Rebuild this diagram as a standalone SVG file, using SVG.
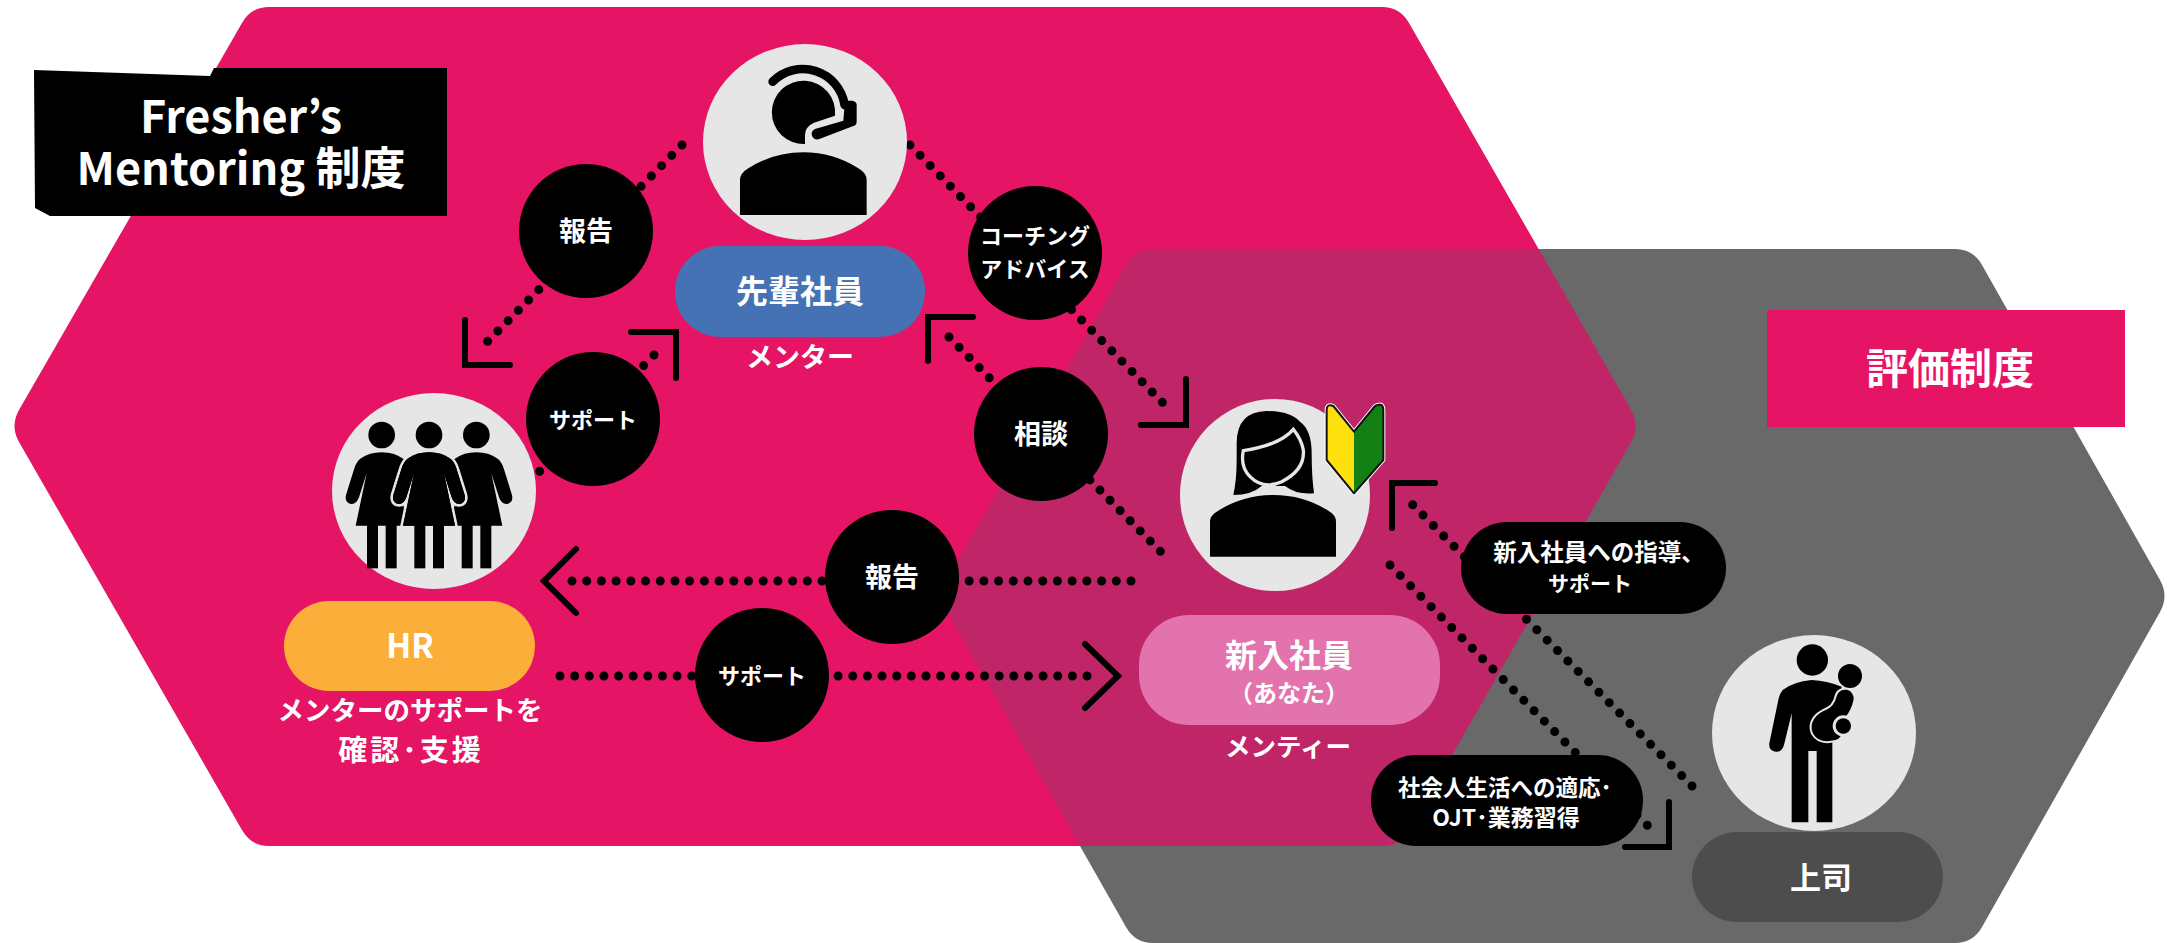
<svg xmlns="http://www.w3.org/2000/svg" xmlns:xlink="http://www.w3.org/1999/xlink" width="2170" height="943" viewBox="0 0 2170 943">
<style>
text{font-family:"Noto Sans CJK JP","Noto Sans",sans-serif;font-weight:700;fill:#fff;text-anchor:middle}
.dot{fill:none;stroke:#000;stroke-width:9;stroke-linecap:round;stroke-dasharray:0 15}
.brk{fill:none;stroke:#000;stroke-width:6;stroke-linecap:round;stroke-linejoin:miter}
.disc{fill:#e6e6e6}
.blk{fill:#000}
.kat{font-size:22px}
.kan{font-size:27px}
.t32{font-size:32px}
</style>
<defs>
<path id="hexP" d="M242 23Q251 7 269 7H1382Q1400 7 1409 23L1631 410Q1640 426 1631 442L1409 830Q1400 846 1382 846H269Q251 846 242 830L19 442Q10 426 19 410Z"/>
<path id="hexG" d="M1153 249H1955Q1973 249 1982 265L2160 580Q2169 596 2160 612L1982 927Q1973 943 1955 943H1153Q1135 943 1126 927L947 612Q938 596 947 580L1126 265Q1135 249 1153 249Z"/>
<clipPath id="inP"><use href="#hexP"/></clipPath>
<g id="woman">
<path d="M0 187Q-38 187-62 205Q-76 215-82 235L-107 315Q-112 338-92 342Q-76 344-68 322L-45 250L-78 407H78L45 250L68 322Q76 344 92 342Q112 338 107 315L82 235Q76 215 62 205Q38 187 0 187Z"/>
</g>
<g id="womanTop">
<circle cx="0" cy="135" r="40"/>
<rect x="-44" y="405" width="33" height="130"/>
<rect x="12" y="405" width="33" height="130"/>
</g>
</defs>

<g id="backgrounds">
<use href="#hexG" fill="#696969"/>
<use href="#hexP" fill="#e61464"/>
<use href="#hexG" fill="#c02667" clip-path="url(#inP)"/>
</g>

<g id="connectors">
<path class="dot" pathLength="286" d="M682 145L487 342"/>
<path class="brk" d="M465 320V365H510"/>
<path class="dot" pathLength="166" d="M654 355L539 472"/>
<path class="brk" d="M631 332H676V378"/>
<path class="dot" pathLength="376" d="M910 145L1163 403"/>
<path class="brk" d="M1186 379V425H1141"/>
<path class="dot" pathLength="316" d="M949 337L1161 552"/>
<path class="brk" d="M928 361V317H973"/>
<path class="dot" pathLength="571" d="M1131 581H571"/>
<path class="brk" d="M576 549L544 581L576 613"/>
<path class="dot" pathLength="541" d="M560 676H1088"/>
<path class="brk" d="M1085 644L1118 676L1085 708"/>
<path class="dot" pathLength="406" d="M1692 786L1412 504"/>
<path class="brk" d="M1392 528V483H1435"/>
<path class="dot" pathLength="376" d="M1390 565L1648 826"/>
<path class="brk" d="M1669 802V847H1625"/>
</g>

<g id="title-box">
<path class="blk" d="M34 70L210 76L214 68H447V216H50L35 208Z"/>
<text font-size="45"><tspan x="241" y="133">Fresher’s</tspan><tspan x="241" y="185">Mentoring 制度</tspan></text>
</g>

<g id="hyouka-box">
<rect x="1767" y="310" width="358" height="117" fill="#e61464"/>
<text x="1950" y="384" font-size="42">評価制度</text>
</g>

<g id="mentor">
<ellipse class="disc" cx="805" cy="142" rx="102" ry="98"/>
<g transform="translate(690 30) scale(.33333)" class="blk">
<path d="M150 555V450Q150 430 175 415Q250 367 340 367Q430 367 505 415Q530 430 530 450V555Z"/>
<path d="M345 342A95 95 0 1 1 435 257L372 278Q345 290 345 315Z"/>
<path d="M248 155A127 127 0 0 1 464 225" fill="none" stroke="#000" stroke-width="26" stroke-linecap="round"/>
<path d="M465 212H488Q500 215 500 225V275Q500 285 490 288L388 327Q375 332 367 320Q360 305 375 297L460 272Z"/>
</g>
<rect x="675" y="246" width="250" height="91" rx="45" fill="#4472b5"/>
<text class="t32" x="800" y="303">先輩社員</text>
<text class="kan" x="800" y="367">メンター</text>
</g>

<g id="hr">
<ellipse class="disc" cx="434" cy="491" rx="102" ry="98"/>
<g transform="translate(320 390) scale(.33333)" class="blk">
<use href="#woman" x="185"/>
<use href="#woman" x="469"/>
<use href="#woman" x="327" stroke="#e6e6e6" stroke-width="16" paint-order="stroke"/>
<use href="#woman" x="327"/>
<use href="#womanTop" x="185"/>
<use href="#womanTop" x="327"/>
<use href="#womanTop" x="469"/>
</g>
<rect x="284" y="601" width="251" height="90" rx="45" fill="#fbaf3a"/>
<text x="410" y="658" font-size="33">HR</text>
<text x="410" y="720" font-size="26.5">メンターのサポートを</text>
<text x="411" y="761" font-size="29" letter-spacing="3">確認･支援</text>
</g>

<g id="mentee">
<ellipse class="disc" cx="1275" cy="495" rx="95" ry="96"/>
<g transform="translate(1130 380) scale(.33333)">
<path class="blk" d="M240 530V425Q240 405 265 392Q340 345 430 345Q520 345 595 392Q618 405 618 425V530Z"/>
<path class="blk" d="M320 190Q320 95 410 93Q480 93 510 125Q545 150 545 220Q545 290 552 340Q500 345 465 318L395 318Q365 345 310 345Q320 300 320 240Z"/>
<path class="blk" d="M490 148Q450 195 340 212Q330 260 360 290Q400 330 455 305Q525 270 520 210Q515 180 490 148Z" stroke="#e6e6e6" stroke-width="10"/>
<path d="M590 90Q590 70 610 78L672 155L735 78Q760 65 760 90V240L672 340L590 240Z" fill="#fff" stroke="#fff" stroke-width="12" stroke-linejoin="round"/>
<path d="M590 90Q590 70 610 78L672 155V340L590 240Z" fill="#ffe00f"/>
<path d="M672 155L735 78Q760 65 760 90V240L672 340Z" fill="#138013"/>
<path d="M590 90Q590 70 610 78L672 155L735 78Q760 65 760 90V240L672 340L590 240Z" fill="none" stroke="#111" stroke-width="6" stroke-linejoin="round"/>
</g>
<rect x="1139" y="615" width="301" height="110" rx="50" fill="#e273ad"/>
<text class="t32" x="1289" y="667">新入社員</text>
<text x="1289" y="702" font-size="24">（あなた）</text>
<text x="1288" y="756" font-size="25.5">メンティー</text>
</g>

<g id="boss">
<ellipse class="disc" cx="1814" cy="733" rx="102" ry="98"/>
<g transform="translate(1700 630) scale(.33333)" class="blk">
<circle cx="337" cy="90" r="47"/>
<path d="M335 150Q280 155 248 180Q240 190 236 205L208 340Q205 362 228 365Q245 367 252 345L275 250V577H325V363H350V577H397V320L425 170Q380 152 335 150Z"/>
<path d="M435 205Q425 250 385 265Q355 280 362 298Q370 312 400 305" fill="none" stroke="#e6e6e6" stroke-width="64" stroke-linecap="round"/>
<path d="M435 205Q425 250 385 265Q355 280 362 298Q370 312 400 305" fill="none" stroke="#000" stroke-width="52" stroke-linecap="round"/>
<circle cx="450" cy="138" r="36"/>
<circle cx="430" cy="288" r="32" fill="#e6e6e6"/>
<circle cx="430" cy="288" r="23"/>
</g>
<rect x="1692" y="832" width="251" height="90" rx="45" fill="#4d4d4d"/>
<text x="1821" y="889" font-size="31">上司</text>
</g>

<g id="label-houkoku-1"><circle class="blk" cx="586" cy="231" r="67"/><text class="kan" x="586" y="241">報告</text></g>
<g id="label-support-1"><circle class="blk" cx="593" cy="419" r="67"/><text class="kat" x="593" y="428">サポート</text></g>
<g id="label-coaching"><circle class="blk" cx="1035" cy="253" r="67"/><text class="kat" x="1035" y="244">コーチング</text><text class="kat" x="1035" y="277">アドバイス</text></g>
<g id="label-soudan"><circle class="blk" cx="1041" cy="434" r="67"/><text class="kan" x="1041" y="444">相談</text></g>
<g id="label-houkoku-2"><circle class="blk" cx="892" cy="577" r="67"/><text class="kan" x="892" y="587">報告</text></g>
<g id="label-support-2"><circle class="blk" cx="762" cy="675" r="67"/><text class="kat" x="762" y="684">サポート</text></g>
<g id="label-shidou"><rect class="blk" x="1461" y="522" width="265" height="92" rx="46"/><text x="1599" y="561" font-size="23.5">新入社員への指導、</text><text x="1590" y="591" font-size="21">サポート</text></g>
<g id="label-tekiou"><rect class="blk" x="1371" y="755" width="272" height="91" rx="45"/><text x="1505" y="796" font-size="22.5">社会人生活への適応･</text><text x="1506" y="826" font-size="23">OJT･業務習得</text></g>
</svg>
